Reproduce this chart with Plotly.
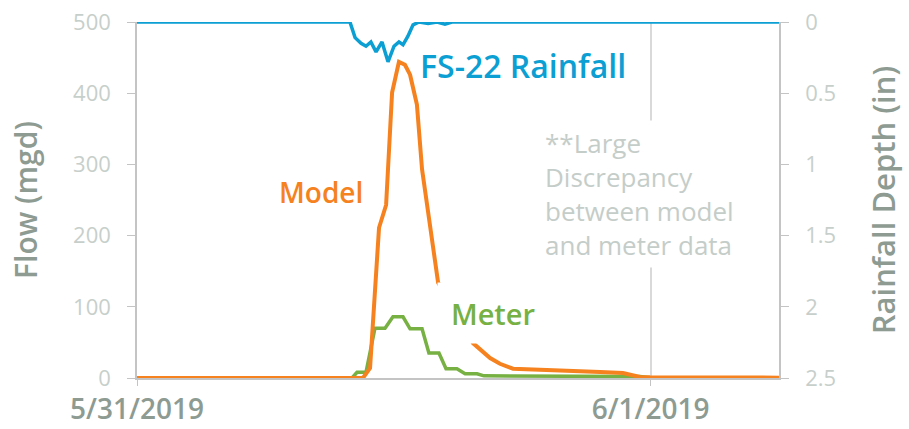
import plotly.graph_objects as go
import pandas as pd

BASE = pd.Timestamp("2019-05-31 00:00")

# hours after 5/31/2019 00:00
model_hours = [0, 10.56, 10.89, 11.31, 11.64, 11.92, 12.24, 12.52, 12.76, 13.08, 13.32, 13.69,
               14.07, 15.70, 16.50, 16.96, 17.57, 21.64, 22.71, 23.50, 23.97, 30.0]
model_flow = [0, 0, 14, 211, 243, 401, 444, 440, 426, 384, 293, 219,
              134, 49, 28, 20, 13, 8.4, 7, 1.4, 1, 0.5]

meter_hours = [0, 10.05, 10.28, 10.70, 11.12, 11.59, 11.96, 12.43, 12.76, 13.32, 13.64, 14.11,
               14.44, 14.95, 15.33, 15.89, 16.21, 23.5, 24.07, 30.0]
meter_flow = [0, 0, 8, 8, 70, 70, 86, 86, 69, 69, 35, 35,
              13, 13, 6, 6, 3, 2, 0, 0]

rain_hours = [0, 9.95, 10.19, 10.47, 10.70, 10.93, 11.17, 11.45, 11.73, 12.01, 12.24, 12.43,
              12.66, 12.90, 13.18, 13.60, 14.02, 14.39, 14.72, 30.0]
rain_depth = [0, 0, 0.11, 0.15, 0.17, 0.14, 0.21, 0.14, 0.28, 0.17, 0.14, 0.16,
              0.10, 0.02, 0, 0.01, 0, 0.015, 0, 0]

x_tick_dates = ["2019-05-31", "2019-06-01"]
x_tick_text = ["5/31/2019", "6/1/2019"]
flow_ticks = [0, 100, 200, 300, 400, 500]
rain_ticks = [0, 0.5, 1, 1.5, 2, 2.5]
rain_tick_text = ["0", "0.5", "1", "1.5", "2", "2.5"]


def to_time(hours):
    return [BASE + pd.Timedelta(hours=h) for h in hours]


BLUE = "#0b9fd3"
ORANGE = "#f5821f"
GREEN = "#77b043"
TICK_GRAY = "#c7cfcb"
TITLE_GRAY = "#8d9b92"
AXIS_GRAY = "#c4c4c4"
FONT = "Open Sans"

fig = go.Figure()
fig.add_trace(go.Scatter(x=to_time(meter_hours), y=meter_flow, mode="lines",
                         line=dict(color=GREEN, width=3.5), name="Meter"))
fig.add_trace(go.Scatter(x=to_time(model_hours), y=model_flow, mode="lines",
                         line=dict(color=ORANGE, width=4), name="Model"))
fig.add_trace(go.Scatter(x=to_time(rain_hours), y=rain_depth, mode="lines", yaxis="y2",
                         line=dict(color=BLUE, width=3.5), name="FS-22 Rainfall"))

# body margin is removed in the page (post_script), so the figure fills the window
W, H = 909, 429
PL, PR, PT, PB = 137, 779, 22, 378  # plot area in page pixels
L, R, T, B = PL, W - PR, PT, H - PB


def px(x):
    return (x - PL) / (PR - PL)


def py(y):
    return (PB - y) / (PB - PT)


fig.update_layout(
    width=W, height=H,
    margin=dict(l=L, r=R, t=T, b=B, autoexpand=False),
    plot_bgcolor="white", paper_bgcolor="white",
    showlegend=False,
    font=dict(family=FONT),
    xaxis=dict(
        type="date", automargin=False, ticklabeloverflow="allow",
        range=[BASE, BASE + pd.Timedelta(hours=30)],
        tickvals=x_tick_dates, ticktext=x_tick_text,
        tickfont=dict(size=28, color=TITLE_GRAY, family=FONT, weight=600),
        showgrid=True, gridcolor="#d9d9d9", gridwidth=1.5,
        showline=True, linecolor=AXIS_GRAY, linewidth=1.5,
        ticks="outside", ticklen=6, tickcolor=AXIS_GRAY,
        zeroline=False,
    ),
    yaxis=dict(
        range=[0, 500], tickvals=flow_ticks, automargin=False, ticklabeloverflow="allow",
        tickfont=dict(size=22, color=TICK_GRAY, family=FONT),
        title=dict(text="Flow (mgd)", font=dict(size=30, color=TITLE_GRAY, family=FONT, weight=600), standoff=27),
        showgrid=False, zeroline=False,
        showline=True, linecolor=AXIS_GRAY, linewidth=1.5,
        ticks="outside", ticklen=8, tickcolor=AXIS_GRAY,
        ticklabelstandoff=12,
    ),
    yaxis2=dict(
        overlaying="y", side="right", automargin=False, ticklabeloverflow="allow",
        range=[2.5, 0], tickvals=rain_ticks, ticktext=rain_tick_text,
        tickfont=dict(size=22, color=TICK_GRAY, family=FONT),
        title=dict(text="Rainfall Depth (in)", font=dict(size=31, color=TITLE_GRAY, family=FONT, weight=600), standoff=38),
        showgrid=False, zeroline=False,
        showline=True, linecolor=AXIS_GRAY, linewidth=1.5,
        ticks="outside", ticklen=8, tickcolor=AXIS_GRAY,
        ticklabelstandoff=12,
    ),
)

annots = [
    dict(text="FS-22 Rainfall", x=px(523), y=py(65), color=BLUE, size=32, weight=600,
         box=None, xa="center", align="center"),
    dict(text="Model", x=px(321), y=py(192), color=ORANGE, size=28, weight=600,
         box=None, xa="center", align="center"),
    dict(text="Meter", x=px(493), y=py(313), color=GREEN, size=29, weight=600,
         box=(110, 60), xa="center", align="center"),
    dict(text="**Large<br>Discrepancy<br>between model<br>and meter data", x=px(544), y=py(194),
         color="#c5cdc9", size=26, weight=400, box=(205, 146), xa="left", align="left"),
]
for a in annots:
    kw = dict(text=a["text"], x=a["x"], y=a["y"], xref="paper", yref="paper",
              showarrow=False, xanchor=a["xa"], yanchor="middle", align=a["align"],
              font=dict(size=a["size"], color=a["color"], family=FONT, weight=a["weight"]))
    if a["box"]:
        kw.update(width=a["box"][0], height=a["box"][1], bgcolor="white", borderpad=0)
    fig.add_annotation(**kw)

fig.write_html("out.html", config={"displayModeBar": False},
               post_script="document.body.style.margin='0';document.body.style.overflow='hidden';")
